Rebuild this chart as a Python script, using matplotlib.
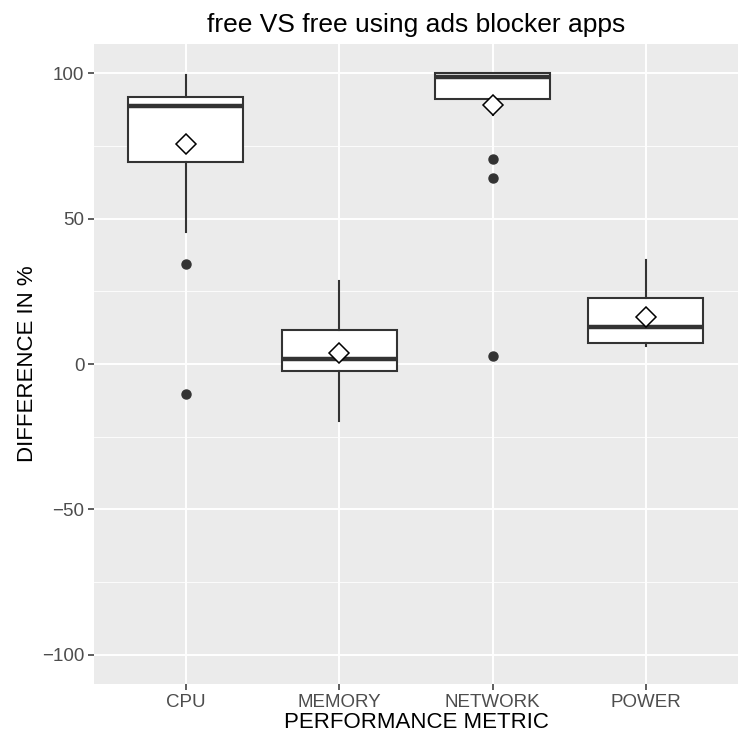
import matplotlib
matplotlib.use("Agg")
import matplotlib.pyplot as plt
from matplotlib.ticker import MultipleLocator

plt.rcParams['font.family'] = ['Liberation Sans', 'DejaVu Sans']

metrics = ["CPU", "MEMORY", "NETWORK", "POWER"]
whislo = [45.3, -19.6, 85.7, 6.2]
q1 = [69.4, -2.4, 91.1, 7.3]
med = [88.6, 1.7, 98.7, 12.6]
q3 = [91.8, 11.7, 99.9, 22.8]
whishi = [99.5, 28.7, 99.9, 35.8]
means = [75.6, 3.7, 89.2, 16.3]
outliers = [[34.4, -10.4], [], [70.6, 63.9, 2.9], []]

stats = []
for i, m in enumerate(metrics):
    stats.append(dict(label=m, whislo=whislo[i], q1=q1[i], med=med[i],
                      q3=q3[i], whishi=whishi[i], fliers=outliers[i], mean=means[i]))

fig = plt.figure(figsize=(7.5, 7.5), dpi=100)
ax = fig.add_axes([0.1253, 0.088, 0.8587, 0.8533])
ax.set_facecolor("#EBEBEB")

pos = list(range(1, len(metrics) + 1))
ax.bxp(stats, positions=pos, widths=0.75, patch_artist=True, showmeans=True,
       showcaps=False, zorder=3,
       boxprops=dict(facecolor="white", edgecolor="#333333", linewidth=1.5),
       medianprops=dict(color="#333333", linewidth=3.2),
       whiskerprops=dict(color="#333333", linewidth=1.5),
       flierprops=dict(marker="o", markerfacecolor="#333333", markeredgecolor="#333333",
                       markersize=6.5),
       meanprops=dict(marker="D", markerfacecolor="white", markeredgecolor="black",
                      markersize=10, markeredgewidth=1.1))

ax.set_xlim(0.4, 4.6)
ax.set_ylim(-110, 110)
ax.yaxis.set_major_locator(MultipleLocator(50))
ax.yaxis.set_minor_locator(MultipleLocator(25))
ax.set_xticks(pos)
ax.set_xticklabels(metrics)
ax.grid(which="major", color="white", linewidth=1.4, zorder=0)
ax.grid(which="minor", axis="y", color="white", linewidth=0.6, zorder=0)
ax.set_axisbelow(True)
for s in ax.spines.values():
    s.set_visible(False)
ax.tick_params(which="major", length=4, width=1.1, color="#333333",
               labelcolor="#4D4D4D", labelsize=13.5, pad=3)
ax.tick_params(which="minor", length=0)

ax.set_xlabel("PERFORMANCE METRIC", fontsize=16, labelpad=1)
ax.set_ylabel("DIFFERENCE IN %", fontsize=16, labelpad=3)
ax.set_title("free VS free using ads blocker apps", fontsize=19, pad=9)

fig.savefig("out.png", dpi=100)
